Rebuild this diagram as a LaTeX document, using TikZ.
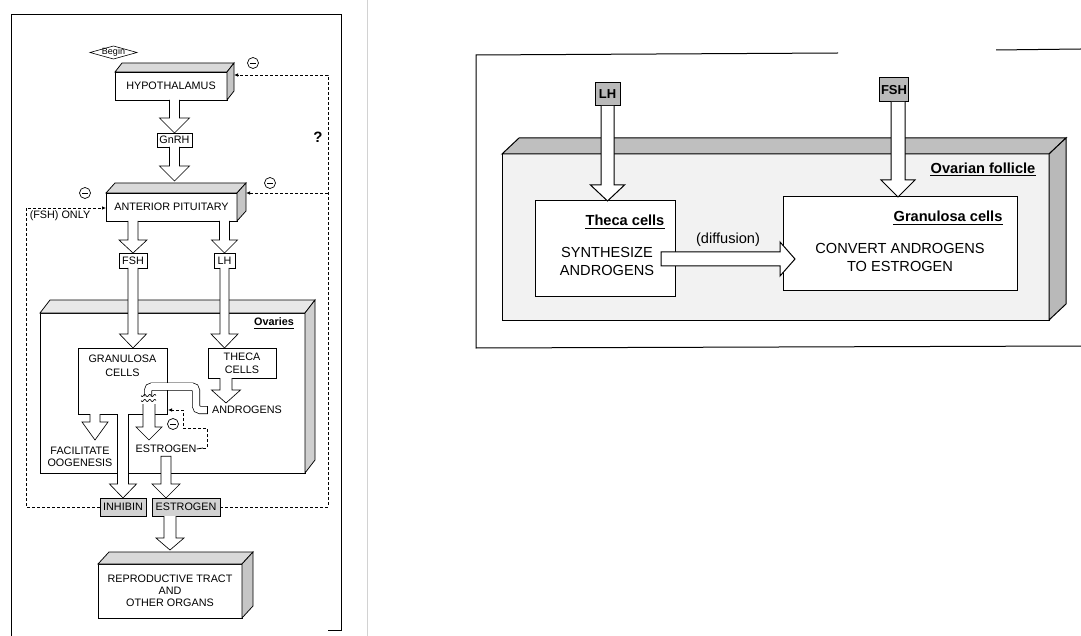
\documentclass[tikz,border=0pt]{standalone}
\usepackage{fontspec}
\setmainfont{Liberation Sans}
\usetikzlibrary{calc,arrows.meta}
\newcommand\lfnt{\fontsize{10.8}{13}\selectfont}
\newcommand\rfnt{\fontsize{14.6}{18}\selectfont}
% vertical hollow arrow, open top: start, tip, shaft half width, head half width, head length
\newcommand\varr[6][]{%
 \filldraw[fill=white,#1] let \p1=#2, \p2=#3 in
  (\x1-#4pt,\y1) -- (\x1-#4pt,\y2+#6pt) -- (\x1-#5pt,\y2+#6pt) -- (\x1,\y2)
  -- (\x1+#5pt,\y2+#6pt) -- (\x1+#4pt,\y2+#6pt) -- (\x1+#4pt,\y1);}
% vertical hollow arrow, closed top
\newcommand\varrc[6][]{%
 \filldraw[fill=white,#1] let \p1=#2, \p2=#3 in
  (\x1-#4pt,\y1) -- (\x1-#4pt,\y2+#6pt) -- (\x1-#5pt,\y2+#6pt) -- (\x1,\y2)
  -- (\x1+#5pt,\y2+#6pt) -- (\x1+#4pt,\y2+#6pt) -- (\x1+#4pt,\y1) -- cycle;}
% horizontal hollow arrow pointing right, closed start
\newcommand\harr[6][]{%
 \filldraw[fill=white,#1] let \p1=#2, \p2=#3 in
  (\x1,\y1+#4pt) -- (\x2-#6pt,\y1+#4pt) -- (\x2-#6pt,\y1+#5pt) -- (\x2,\y1)
  -- (\x2-#6pt,\y1-#5pt) -- (\x2-#6pt,\y1-#4pt) -- (\x1,\y1-#4pt) -- cycle;}
% 3D faces of a box node: node, dx, dy(up), top fill, side fill
\newcommand\boxthreed[5]{%
 \filldraw[fill=#4] (#1.north west) -- ++(#2,-#3) -- ([shift={(#2,-#3)}]#1.north east) -- (#1.north east) -- cycle;
 \filldraw[fill=#5] (#1.north east) -- ++(#2,-#3) -- ([shift={(#2,-#3)}]#1.south east) -- (#1.south east) -- cycle;}
\tikzset{
 lbox/.style={draw, fill=white, inner sep=0pt, outer sep=0pt, align=center, font=\lfnt, line width=0.75pt},
 rbox/.style={draw, fill=white, inner sep=0pt, outer sep=0pt, line width=1pt},
 ltxt/.style={inner sep=0pt, align=center, font=\lfnt},
 rtxt/.style={inner sep=0pt, align=center, font=\rfnt},
 hbox/.style={draw, fill=gray!55, inner sep=0pt, outer sep=0pt, line width=1pt, font=\fontsize{13}{15}\selectfont\bfseries},
 fb/.style={dash pattern=on 3pt off 2pt, line width=0.8pt},
 fbarrow/.style={fb, -{Latex[length=4pt,width=3.6pt]}},
 mcirc/.style={circle, draw, fill=white, minimum size=11pt, inner sep=0pt, line width=0.7pt,
   path picture={\draw[line width=0.9pt] ([xshift=-2.6pt]path picture bounding box.center) -- ([xshift=2.6pt]path picture bounding box.center);}},
}
\begin{document}
\begin{tikzpicture}[x=1pt,y=-1pt]
\useasboundingbox (0,0) rectangle (1081,636);
\fill[white] (0,0) rectangle (1081,636);

% ================= LEFT PANEL =================
\draw[line width=0.6pt] (11,636) -- (11,14) -- (341,14) -- (341,630) -- (328,630);
\draw[gray!35, line width=0.5pt] (367,0) -- (367,636);

\begin{scope}[line width=0.75pt]
% Begin
\coordinate (bc) at (113.5,52.5);
\draw[line width=0.6pt] ($(bc)+(-23.5,0)$) -- ($(bc)+(0,-6.5)$) -- ($(bc)+(23.5,0)$) -- ($(bc)+(0,6.5)$) -- cycle;
\node[ltxt, font=\fontsize{9}{10}\selectfont] (begin) at (bc) {Begin};

% Hypothalamus
\node[lbox, minimum width=112pt, minimum height=28pt] (hyp) at (171,86) {HYPOTHALAMUS};
\boxthreed{hyp}{7}{9}{gray!30}{gray!45}
% GnRH
\node[lbox, minimum width=35pt, minimum height=14pt] (gnrh) at (174.5,140) {GnRH};
% Anterior pituitary
\node[lbox, minimum width=131pt, minimum height=28pt] (ap) at (171.5,207) {ANTERIOR PITUITARY};
\boxthreed{ap}{9}{10}{gray!30}{gray!45}
% FSH / LH
\node[lbox, minimum width=28pt, minimum height=15pt] (fsh) at (133,260.5) {FSH};
\node[lbox, minimum width=21pt, minimum height=15pt] (lh) at (224.5,260.5) {LH};
\node[ltxt] (fshonly) at (60,216) {(FSH) ONLY};
\node[inner sep=0pt, font=\fontsize{15}{15}\selectfont\bfseries] (qm) at (318,137) {?};

% Ovaries
\node[draw, fill=white, minimum width=265pt, minimum height=160pt, inner sep=0pt, outer sep=0pt] (ova) at (172.5,393) {};
\boxthreed{ova}{10}{13}{gray!18}{gray!38}
\node[ltxt, font=\lfnt\bfseries] (ovaL) at (274,322) {Ovaries};
\draw[line width=0.6pt] ([yshift=-2pt]ovaL.base west) -- ([yshift=-2pt]ovaL.base east);

% Granulosa / Theca (left)
\node[lbox, minimum width=89pt, minimum height=66pt] (gran) at (122.5,381) {};
\node[ltxt, font=\fontsize{10.8}{14}\selectfont] (granT) at (122.5,366) {GRANULOSA\\CELLS};
\node[lbox, minimum width=68pt, minimum height=30pt] (thecaL) at (242,363) {THECA\\CELLS};
\node[ltxt] (andL) at (247,410) {ANDROGENS};
\node[ltxt] (estI) at (166,449) {ESTROGEN};
\node[ltxt, font=\fontsize{10.8}{12}\selectfont] (fac) at (80,457) {FACILITATE\\OOGENESIS};

% hormone boxes
\node[lbox, fill=gray!35, minimum width=46pt, minimum height=18pt] (inh) at (123,507) {INHIBIN};
\node[lbox, fill=gray!35, minimum width=68pt, minimum height=18pt] (estL) at (186,507) {ESTROGEN};

% Reproductive tract
\node[lbox, minimum width=144pt, minimum height=54pt, font=\fontsize{10.8}{12.2}\selectfont] (rep) at (170,591) {REPRODUCTIVE TRACT\\AND\\OTHER ORGANS};
\boxthreed{rep}{11}{12}{gray!30}{gray!45}
\end{scope}

% hollow arrows (left)
\begin{scope}[line width=0.65pt]
\varr{(hyp.south -| gnrh.north)}{(gnrh.north)}{5}{15}{15}
\varr{(gnrh.south)}{([yshift=12pt]ap.north)}{5}{15}{15}
\varr{(ap.south -| fsh.north)}{(fsh.north)}{5}{14}{13}
\varr{(ap.south -| lh.north)}{(lh.north)}{5}{13}{13}
\varr{(fsh.south)}{(gran.north)}{5}{13.5}{14}
\varr{(lh.south)}{(thecaL.north)}{4.5}{13.5}{14}
\coordinate (andTip) at (226,403);
\varr{([xshift=-16pt]thecaL.south)}{(andTip)}{6}{14.5}{13}
\coordinate (facTip) at (95,440);
\varr{([xshift=-27.5pt]gran.south)}{(facTip)}{5}{13}{18}
\varr{(gran.south -| inh.north)}{(inh.north)}{5.5}{13.5}{14}
\coordinate (estTop) at (149,404);
\coordinate (estTip) at (149,440);
\varr{(estTop)}{(estTip)}{6}{13}{13}
\varrc{([yshift=-3pt]estI.south)}{(estL.north)}{5}{14}{14}
\varr{(estL.south -| rep.north)}{([yshift=14pt]rep.north)}{6}{14}{12}
\end{scope}

% androgen pipe and membrane
\coordinate (pipeEnd) at ([xshift=-4pt]andL.west);
\draw[line width=0.7pt, double=white, double distance=6.6pt, rounded corners=4pt]
  (148,396) -- (148,386.5) -- (196,386.5) -- (196,410) -- (pipeEnd);
\draw[line width=0.7pt] ([yshift=4pt]pipeEnd) -- ([yshift=-4pt]pipeEnd);
\draw[line width=0.6pt] plot[domain=0:15, samples=31, smooth] ({141+\x},{395.5+1.1*sin(\x*72)});
\draw[line width=0.6pt] plot[domain=0:15, samples=31, smooth] ({141+\x},{400.5+1.1*sin(\x*72)});

% feedback (dashed)
\coordinate (rc1) at (328,507);
\coordinate (rc2) at (328,75);
\coordinate (rc3) at (328,193);
\coordinate (hypR) at (234,75);
\coordinate (apR) at (246,193);
\draw[fbarrow] (estL.east) -- (rc1) -- (rc2) -- (hypR);
\draw[fbarrow] (rc3) -- (apR);
\coordinate (lc1) at (26,507);
\coordinate (lc2) at (26,208);
\draw[fbarrow] (inh.west) -- (lc1) -- (lc2) -- (ap.west |- lc2);
\coordinate (ic1) at (207,448);
\coordinate (ic2) at (207,428);
\coordinate (ic3) at (183,428);
\coordinate (ic4) at (183,410);
\coordinate (ic5) at (168,410);
\draw[line width=0.8pt] (estI.east) -- ([xshift=-4pt]ic1);
\draw[fbarrow] ([xshift=-4pt]ic1) -- (ic1) -- (ic2) -- (ic3) -- (ic4) -- (ic5);

% minus circles
\node[mcirc] (m1) at (253,63) {};
\node[mcirc] (m2) at (270,183) {};
\node[mcirc] (m3) at (85,193) {};
\node[mcirc] (m4) at (173,424) {};

% ================= RIGHT PANEL =================
\draw[line width=1pt] (838,53) -- (476,55) -- (476,348) -- (1081,346);
\draw[line width=1pt] (996,50) -- (1081,49);

\node[draw, fill=gray!10, line width=1pt, minimum width=547pt, minimum height=166pt, inner sep=0pt, outer sep=0pt] (foll) at (775.5,237) {};
\begin{scope}[line width=1pt]
\boxthreed{foll}{17}{16}{gray!50}{gray!55}
\end{scope}
\node[rtxt, font=\rfnt\bfseries] (follLbl) at (983,168) {Ovarian follicle};
\draw[line width=1pt] ([yshift=-2.5pt]follLbl.base west) -- ([yshift=-2.5pt]follLbl.base east);

\node[rbox, minimum width=140pt, minimum height=95pt] (thecaR) at (605,248.5) {};
\node[rbox, minimum width=234pt, minimum height=93pt] (granR) at (900,243.5) {};

\node[rtxt, font=\rfnt\bfseries] (thecaLbl) at (625,220) {Theca cells};
\draw[line width=1pt] ([yshift=-3pt]thecaLbl.base west) -- ([yshift=-3pt]thecaLbl.base east);
\node[rtxt] (synth) at (607,261) {SYNTHESIZE\\ANDROGENS};
\node[rtxt, font=\rfnt\bfseries] (granLbl) at (948,216) {Granulosa cells};
\draw[line width=1pt] ([yshift=-3pt]granLbl.base west) -- ([yshift=-3pt]granLbl.base east);
\node[rtxt] (conv) at (900,257) {CONVERT ANDROGENS\\TO ESTROGEN};
\node[rtxt] (dif) at (728,240) {(diffusion)};

\node[hbox, minimum width=25pt, minimum height=23pt] (lhR) at (607.5,94.5) {LH};
\node[hbox, minimum width=29pt, minimum height=24pt] (fshR) at (894,90) {FSH};

\begin{scope}[line width=1pt]
\varr{(lhR.south)}{(thecaR.north)}{6.5}{17}{16}
\varr{([xshift=4pt]fshR.south)}{(granR.north)}{7}{17}{17}
\coordinate (difS) at (661,259);
\coordinate (difT) at (795,259);
\harr{(difS)}{(difT)}{7}{17}{15}
\end{scope}
\end{tikzpicture}
\end{document}
